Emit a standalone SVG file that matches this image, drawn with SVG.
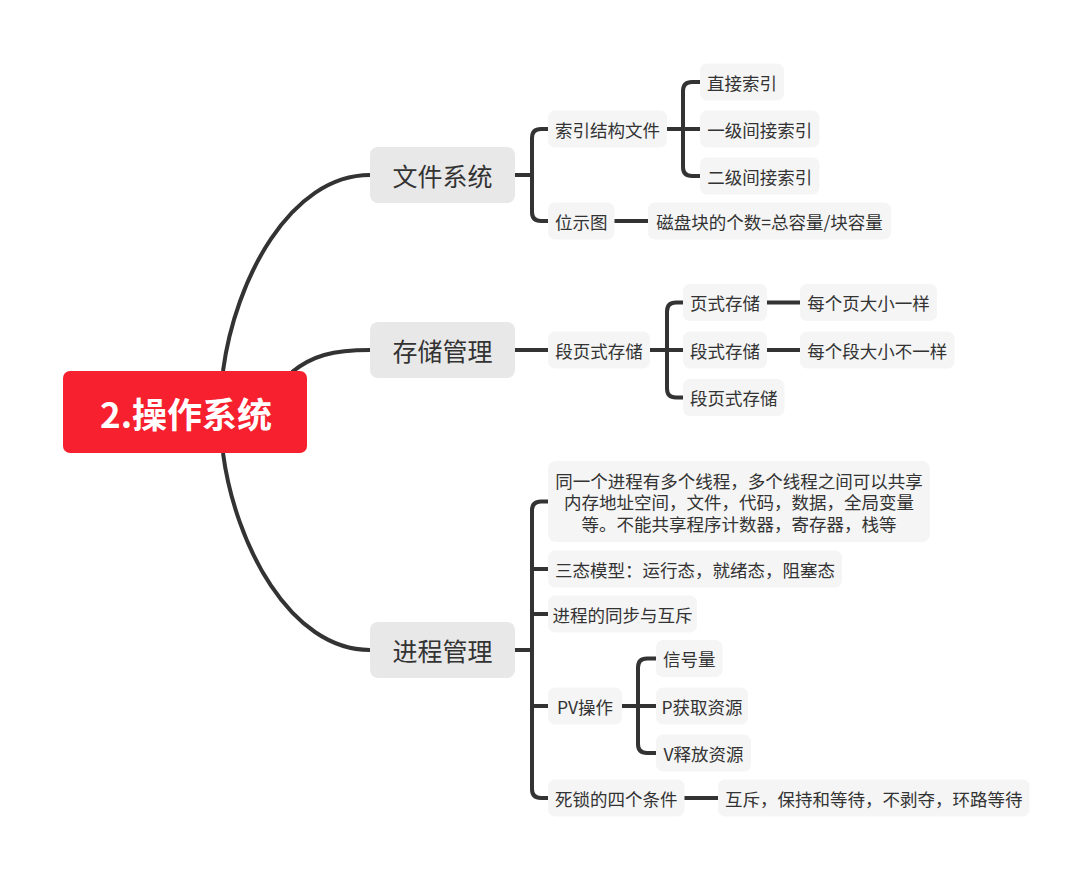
<svg xmlns="http://www.w3.org/2000/svg" width="1092" height="880" viewBox="0 0 1092 880">
<style>
.ln{fill:none;stroke:#333;stroke-width:4;stroke-linecap:butt}
.b1{fill:#e8e8e8}
.b2{fill:#f5f5f5}
.t{font-family:"Noto Sans CJK SC","Noto Sans",sans-serif;fill:#333;text-anchor:middle;dominant-baseline:central}
.t1{font-size:25px}
.t2{font-size:17.5px}
.tr{font-family:"Noto Sans CJK SC","Noto Sans",sans-serif;fill:#fff;font-size:35px;font-weight:bold;text-anchor:middle;dominant-baseline:central}
</style>
<rect width="1092" height="880" fill="#fff"/>
<g id="connectors">
<path class="ln" d="M223,371 C235,280 290,175 370,175"/>
<path class="ln" d="M292,372 C312,356 332,350 370,350"/>
<path class="ln" d="M223,453 C235,544 290,650 370,650"/>
<path class="ln" d="M515,175 H532 M548,129 H541 Q532,129 532,138 V212 Q532,221 541,221 H548"/>
<path class="ln" d="M667,129 H700 M700,82 H692 Q683,82 683,91 V167 Q683,176 692,176 H700"/>
<path class="ln" d="M614,221 H648"/>
<path class="ln" d="M515,350 H548"/>
<path class="ln" d="M650,350 H683 M683,302.5 H676 Q667,302.5 667,311.5 V388.5 Q667,397.5 676,397.5 H683"/>
<path class="ln" d="M767,302.5 H800 M767,350 H800"/>
<path class="ln" d="M515,650 H532 M548,501.5 H541 Q532,501.5 532,510.5 V789 Q532,798 541,798 H548 M532,569 H548 M532,614 H548 M532,706 H548"/>
<path class="ln" d="M622,706 H656 M656,658.5 H647 Q638,658.5 638,667.5 V744 Q638,753 647,753 H656"/>
<path class="ln" d="M684,798 H718"/>
</g>
<g id="root">
<rect x="63" y="371" width="244" height="82" rx="7" fill="#f7202f"/>
<text class="tr" x="186" y="412">2.操作系统</text>
</g>
<g id="n-wjxt"><rect class="b1" x="370" y="147" width="145" height="56" rx="8"/><text class="t t1" x="442.5" y="175">文件系统</text></g>
<g id="n-ccgl"><rect class="b1" x="370" y="322" width="145" height="56" rx="8"/><text class="t t1" x="442.5" y="350">存储管理</text></g>
<g id="n-jcgl"><rect class="b1" x="370" y="622" width="145" height="56" rx="8"/><text class="t t1" x="442.5" y="650">进程管理</text></g>

<g id="n-sy"><rect class="b2" x="548" y="110.5" width="119" height="37" rx="7"/><text class="t t2" x="607.5" y="129">索引结构文件</text></g>
<g id="n-zj"><rect class="b2" x="700" y="63.5" width="84" height="37" rx="7"/><text class="t t2" x="742" y="82">直接索引</text></g>
<g id="n-yj"><rect class="b2" x="700" y="110.5" width="119.5" height="37" rx="7"/><text class="t t2" x="759.75" y="129">一级间接索引</text></g>
<g id="n-ej"><rect class="b2" x="700" y="157.5" width="119.5" height="37" rx="7"/><text class="t t2" x="759.75" y="176">二级间接索引</text></g>
<g id="n-wst"><rect class="b2" x="548" y="202.5" width="66.5" height="37" rx="7"/><text class="t t2" x="581.25" y="221">位示图</text></g>
<g id="n-cp"><rect class="b2" x="648" y="202.5" width="243" height="37" rx="7"/><text class="t t2" x="769.5" y="221">磁盘块的个数=总容量/块容量</text></g>

<g id="n-dys"><rect class="b2" x="548" y="331.5" width="102" height="37" rx="7"/><text class="t t2" x="599" y="350">段页式存储</text></g>
<g id="n-ys"><rect class="b2" x="683" y="284" width="84" height="37" rx="7"/><text class="t t2" x="725" y="302.5">页式存储</text></g>
<g id="n-ds"><rect class="b2" x="683" y="331.5" width="84" height="37" rx="7"/><text class="t t2" x="725" y="350">段式存储</text></g>
<g id="n-dys2"><rect class="b2" x="683" y="379" width="101.5" height="37" rx="7"/><text class="t t2" x="733.75" y="397.5">段页式存储</text></g>
<g id="n-ydx"><rect class="b2" x="800" y="284" width="137" height="37" rx="7"/><text class="t t2" x="868.5" y="302.5">每个页大小一样</text></g>
<g id="n-ddx"><rect class="b2" x="800" y="331.5" width="154.5" height="37" rx="7"/><text class="t t2" x="877.25" y="350">每个段大小不一样</text></g>

<g id="n-xc"><rect class="b2" x="548" y="461" width="382" height="81" rx="8"/>
<text class="t t2" x="739" y="480">同一个进程有多个线程，多个线程之间可以共享</text>
<text class="t t2" x="739" y="501.5">内存地址空间，文件，代码，数据，全局变量</text>
<text class="t t2" x="739" y="523">等。不能共享程序计数器，寄存器，栈等</text></g>
<g id="n-st"><rect class="b2" x="548" y="550.5" width="294" height="37" rx="7"/><text class="t t2" x="695" y="569">三态模型：运行态，就绪态，阻塞态</text></g>
<g id="n-tb"><rect class="b2" x="548" y="595.5" width="149" height="37" rx="7"/><text class="t t2" x="622.5" y="614">进程的同步与互斥</text></g>
<g id="n-pv"><rect class="b2" x="548" y="687.5" width="74" height="37" rx="7"/><text class="t t2" x="585" y="706">PV操作</text></g>
<g id="n-xhl"><rect class="b2" x="656" y="640" width="66.5" height="37" rx="7"/><text class="t t2" x="689.25" y="658.5">信号量</text></g>
<g id="n-p"><rect class="b2" x="656" y="687.5" width="92" height="37" rx="7"/><text class="t t2" x="702" y="706">P获取资源</text></g>
<g id="n-v"><rect class="b2" x="656" y="734.5" width="95" height="37" rx="7"/><text class="t t2" x="703.5" y="753">V释放资源</text></g>
<g id="n-sstj"><rect class="b2" x="548" y="779.5" width="136.5" height="37" rx="7"/><text class="t t2" x="616.25" y="798">死锁的四个条件</text></g>
<g id="n-hc"><rect class="b2" x="718" y="779.5" width="311.5" height="37" rx="7"/><text class="t t2" x="873.75" y="798">互斥，保持和等待，不剥夺，环路等待</text></g>
</svg>
